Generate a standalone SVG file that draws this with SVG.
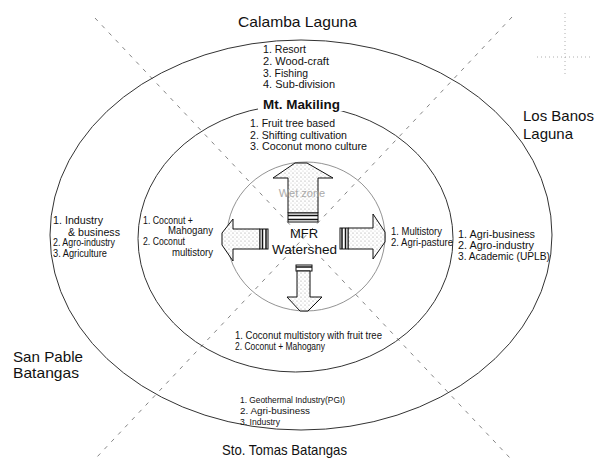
<svg xmlns="http://www.w3.org/2000/svg" width="600" height="462" viewBox="0 0 600 462">
<style>
text{font-family:"Liberation Sans",Arial,sans-serif;fill:#111}
.s{font-size:10.5px}
.t{font-size:9.5px}
.big{font-size:15px}
.ring{fill:none;stroke:#333;stroke-width:1}
.inner{fill:none;stroke:#777;stroke-width:0.8}
.diag{stroke:#777;stroke-width:0.9;stroke-dasharray:4 6;fill:none}
.arr{fill:url(#dots);stroke:#111;stroke-width:1}
.band{fill:#fff;stroke:#111;stroke-width:1}
</style>
<defs>
<pattern id="dots" width="4" height="4" patternUnits="userSpaceOnUse">
<rect width="4" height="4" fill="#fff"/>
<circle cx="1" cy="1" r="0.6" fill="#999"/>
<circle cx="3" cy="3" r="0.5" fill="#bbb"/>
</pattern>
</defs>
<rect width="600" height="462" fill="#fff"/>
<g id="diagonals">
<line class="diag" x1="95" y1="18" x2="510" y2="458"/>
<line class="diag" x1="512" y1="17" x2="97" y2="457"/>
</g>
<g id="corner-mark" stroke="#999" stroke-width="0.8" stroke-dasharray="1 3">
<line x1="565" y1="13" x2="565" y2="75"/>
<line x1="537" y1="57" x2="592" y2="57"/>
</g>
<g id="rings">
<ellipse class="ring" cx="301" cy="235" rx="251" ry="195"/>
<ellipse class="ring" cx="295.5" cy="238.5" rx="157.5" ry="133.5"/>
<ellipse class="inner" cx="306" cy="236.5" rx="79" ry="74.5"/>
</g>
<g id="connectors">
<g id="arrow-up">
<polygon class="arr" points="295,163 307,163 333,178 318,178 318,213 288,213 288,178 273,178"/>
<rect class="band" x="288" y="213" width="30" height="9"/>
<line x1="288" y1="215.5" x2="318" y2="215.5" stroke="#111" stroke-width="1.5"/>
<line x1="288" y1="219.5" x2="318" y2="219.5" stroke="#111" stroke-width="1.5"/>
<text x="302" y="197" text-anchor="middle" style="font-size:11px;fill:#aaa">Wet zone</text>
</g>
<g id="arrow-left">
<polygon class="arr" points="260,229 233,229 233,219 222,233 222,245 233,261 233,249 260,249"/>
<rect class="band" x="260" y="229" width="8" height="20"/>
<line x1="262.5" y1="229" x2="262.5" y2="249" stroke="#111" stroke-width="1.5"/>
<line x1="266" y1="229" x2="266" y2="249" stroke="#111" stroke-width="1.5"/>
</g>
<g id="arrow-right">
<polygon class="arr" points="348,228 373,228 373,214 385,232 385,242 373,259 373,249 348,249"/>
<rect class="band" x="340" y="228" width="8" height="21"/>
<line x1="342" y1="228" x2="342" y2="249" stroke="#111" stroke-width="1.5"/>
<line x1="345.5" y1="228" x2="345.5" y2="249" stroke="#111" stroke-width="1.5"/>
</g>
<g id="arrow-down">
<rect class="band" x="296" y="265" width="16" height="6"/>
<line x1="296" y1="267" x2="312" y2="267" stroke="#111" stroke-width="1.5"/>
<polygon class="arr" points="297,271 310,271 310,297 322,297 308,311 300,311 287,297 297,297"/>
</g>
</g>
<g id="center">
<text x="304" y="238" text-anchor="middle" style="font-size:13px">MFR</text>
<text x="304.5" y="254" text-anchor="middle" style="font-size:13.5px" textLength="65" lengthAdjust="spacingAndGlyphs">Watershed</text>
</g>
<g id="north">
<text class="big" x="238" y="27" textLength="119" lengthAdjust="spacingAndGlyphs">Calamba Laguna</text>
<text class="s" x="263" y="53" textLength="43" lengthAdjust="spacingAndGlyphs">1. Resort</text>
<text class="s" x="263" y="65" textLength="66" lengthAdjust="spacingAndGlyphs">2. Wood-craft</text>
<text class="s" x="263" y="76.5" textLength="45" lengthAdjust="spacingAndGlyphs">3. Fishing</text>
<text class="s" x="263" y="88" textLength="72" lengthAdjust="spacingAndGlyphs">4. Sub-division</text>
</g>
<g id="mt-makiling">
<rect x="258" y="97" width="88" height="14" fill="#fff"/>
<text x="263" y="108.5" style="font-size:13px;font-weight:bold" textLength="77" lengthAdjust="spacingAndGlyphs">Mt. Makiling</text>
<text class="s" x="250" y="127" textLength="85" lengthAdjust="spacingAndGlyphs">1. Fruit tree based</text>
<text class="s" x="250" y="138.5" textLength="97" lengthAdjust="spacingAndGlyphs">2. Shifting cultivation</text>
<text class="s" x="250" y="150" textLength="117" lengthAdjust="spacingAndGlyphs">3. Coconut mono culture</text>
</g>
<g id="west">
<text class="s" x="53" y="224" textLength="50" lengthAdjust="spacingAndGlyphs">1. Industry</text>
<text class="s" x="68" y="235.5" textLength="52" lengthAdjust="spacingAndGlyphs">&amp; business</text>
<text class="s" x="53" y="246" textLength="62" lengthAdjust="spacingAndGlyphs">2. Agro-industry</text>
<text class="s" x="53" y="256.5" textLength="54" lengthAdjust="spacingAndGlyphs">3. Agriculture</text>
<text class="s" x="143" y="223.5" textLength="50" lengthAdjust="spacingAndGlyphs">1. Coconut +</text>
<text class="s" x="168" y="234" textLength="45" lengthAdjust="spacingAndGlyphs">Mahogany</text>
<text class="s" x="143" y="245" textLength="42" lengthAdjust="spacingAndGlyphs">2. Coconut</text>
<text class="s" x="172" y="256" textLength="41" lengthAdjust="spacingAndGlyphs">multistory</text>
</g>
<g id="east">
<text class="s" x="391" y="235" textLength="51" lengthAdjust="spacingAndGlyphs">1. Multistory</text>
<text class="s" x="391" y="246" textLength="62" lengthAdjust="spacingAndGlyphs">2. Agri-pasture</text>
<text class="s" x="458" y="237.5" textLength="77" lengthAdjust="spacingAndGlyphs">1. Agri-business</text>
<text class="s" x="458" y="248.5" textLength="76" lengthAdjust="spacingAndGlyphs">2. Agro-industry</text>
<text class="s" x="458" y="259.5" textLength="92" lengthAdjust="spacingAndGlyphs">3. Academic (UPLB)</text>
<text class="big" x="523" y="121">Los Banos</text>
<text class="big" x="523" y="139">Laguna</text>
</g>
<g id="south">
<text class="s" x="235" y="338.5" textLength="147" lengthAdjust="spacingAndGlyphs">1. Coconut multistory with fruit tree</text>
<text class="s" x="235" y="350" textLength="90" lengthAdjust="spacingAndGlyphs">2. Coconut + Mahogany</text>
<text class="t" x="240" y="403" textLength="105" lengthAdjust="spacingAndGlyphs">1. Geothermal Industry(PGI)</text>
<text class="t" x="240" y="414" textLength="70" lengthAdjust="spacingAndGlyphs">2. Agri-business</text>
<text class="t" x="240" y="425" textLength="40" lengthAdjust="spacingAndGlyphs">3. Industry</text>
<text class="big" x="222" y="455" textLength="125" lengthAdjust="spacingAndGlyphs">Sto. Tomas Batangas</text>
</g>
<g id="southwest">
<text class="big" x="13" y="362" textLength="70" lengthAdjust="spacingAndGlyphs">San Pable</text>
<text class="big" x="13" y="378" textLength="66" lengthAdjust="spacingAndGlyphs">Batangas</text>
</g>
</svg>
